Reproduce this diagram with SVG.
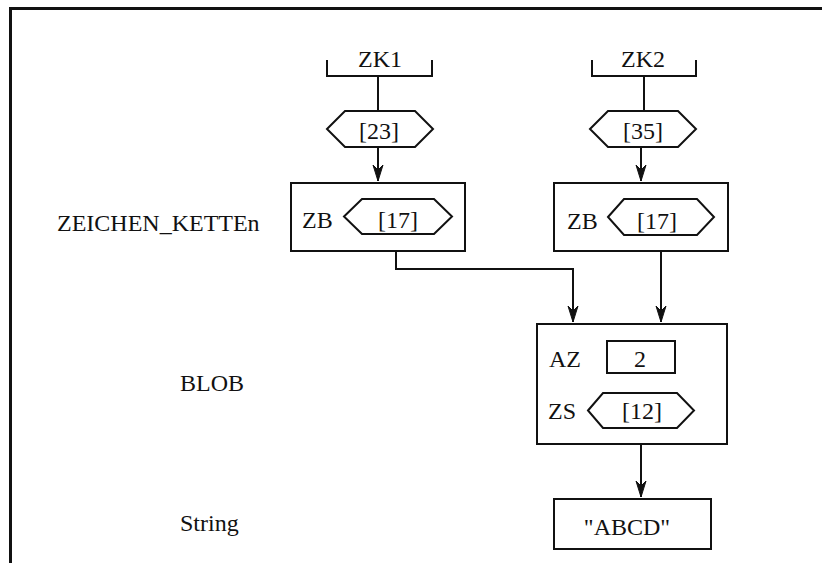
<svg xmlns="http://www.w3.org/2000/svg" width="822" height="563" viewBox="0 0 822 563">
<defs>
<style>
text{font-family:'Liberation Serif','Times New Roman',serif;font-size:24px;fill:#111}
.c{text-anchor:middle}
.s{fill:none;stroke:#111;stroke-width:2}
.w{fill:#fff;stroke:#111;stroke-width:2}
</style>
<marker id="ah" markerWidth="14" markerHeight="18" refX="7" refY="16" orient="0" markerUnits="userSpaceOnUse">
<path d="M2,0 L7,16 L12,0 L7,5 Z" fill="#111" stroke="#111" stroke-width="1"/>
</marker>
</defs>
<rect x="0" y="0" width="822" height="563" fill="#fff"/>
<path d="M10.5,563 V8.5 H822" fill="none" stroke="#111" stroke-width="3"/>
<g id="labels">
<text x="57" y="231">ZEICHEN_KETTEn</text>
<text x="180" y="391">BLOB</text>
<text x="180" y="531">String</text>
</g>
<g id="connectors">
<line class="s" x1="378" y1="76" x2="378" y2="111"/>
<line class="s" x1="378" y1="147" x2="378" y2="181" marker-end="url(#ah)"/>
<line class="s" x1="644" y1="76" x2="644" y2="111"/>
<line class="s" x1="641" y1="147" x2="641" y2="181" marker-end="url(#ah)"/>
<polyline class="s" points="396,234 396,269 573,269 573,322" marker-end="url(#ah)"/>
<line class="s" x1="661" y1="235" x2="661" y2="322" marker-end="url(#ah)"/>
<line class="s" x1="641" y1="428" x2="641" y2="497" marker-end="url(#ah)"/>
</g>
<g id="ZK1">
<path class="s" d="M327,60 V76 H432 V60"/>
<text class="c" x="380" y="67">ZK1</text>
</g>
<g id="ZK2">
<path class="s" d="M592,60 V76 H696 V60"/>
<text class="c" x="643" y="67">ZK2</text>
</g>
<g id="h23">
<path class="w" d="M327,129 L345,111 H415 L433,129 L415,147 H345 Z"/>
<text class="c" x="379" y="139">[23]</text>
</g>
<g id="h35">
<path class="w" d="M590,129 L608,111 H678 L696,129 L678,147 H608 Z"/>
<text class="c" x="643" y="139">[35]</text>
</g>
<g id="ZB1">
<rect class="w" x="291" y="183" width="174" height="68"/>
<text x="302" y="228">ZB</text>
<path class="w" d="M344,216.5 L362,199 H434 L452,216.5 L434,234 H362 Z"/>
<text class="c" x="398" y="228">[17]</text>
</g>
<g id="ZB2">
<rect class="w" x="554" y="183" width="174" height="68"/>
<text x="567" y="229">ZB</text>
<path class="w" d="M608,217 L624,199 H697 L714,217 L697,235 H624 Z"/>
<text class="c" x="657" y="229">[17]</text>
</g>
<g id="BLOB">
<rect class="w" x="537" y="324" width="190" height="120"/>
<text x="549" y="367">AZ</text>
<rect class="w" x="607" y="341" width="68" height="32"/>
<text class="c" x="640" y="367">2</text>
<text x="548" y="419">ZS</text>
<path class="w" d="M588,410.5 L603,393 H677 L694,410.5 L677,428 H603 Z"/>
<text class="c" x="642" y="419">[12]</text>
</g>
<g id="String">
<rect class="w" x="554" y="499" width="157" height="50"/>
<text class="c" x="627" y="535">"ABCD"</text>
</g>
</svg>
